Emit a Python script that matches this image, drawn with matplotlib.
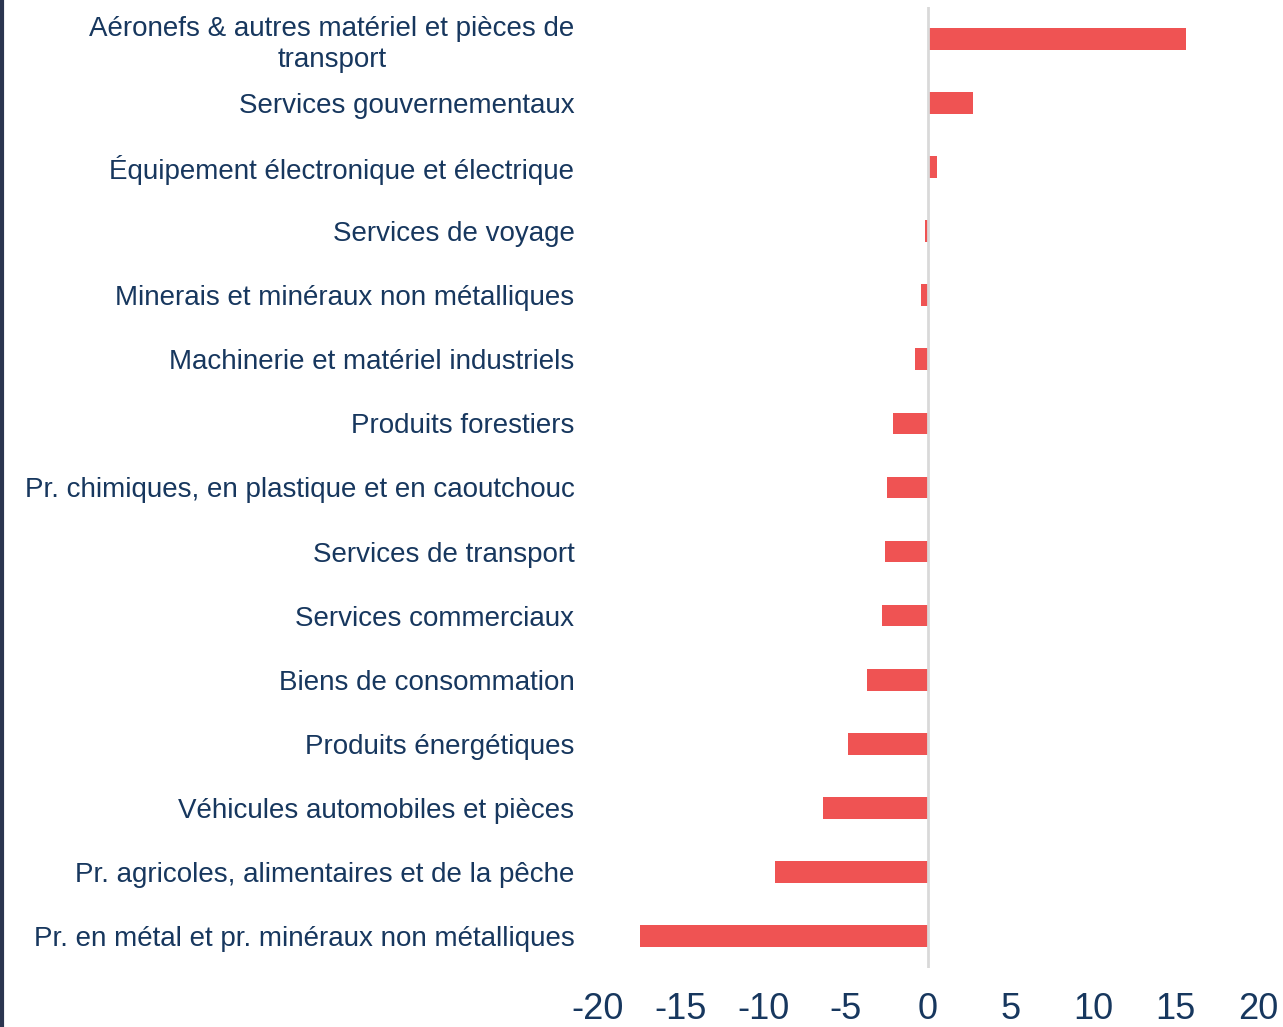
import matplotlib.pyplot as plt
from matplotlib.lines import Line2D

plt.rcParams['font.family'] = ['Liberation Sans', 'DejaVu Sans']

# catégories, de haut en bas
categories = [
    'Aéronefs & autres matériel et pièces de\ntransport',
    'Services gouvernementaux',
    'Équipement électronique et électrique',
    'Services de voyage',
    'Minerais et minéraux non métalliques',
    'Machinerie et matériel industriels',
    'Produits forestiers',
    'Pr. chimiques, en plastique et en caoutchouc',
    'Services de transport',
    'Services commerciaux',
    'Biens de consommation',
    'Produits énergétiques',
    'Véhicules automobiles et pièces',
    'Pr. agricoles, alimentaires et de la pêche',
    'Pr. en métal et pr. minéraux non métalliques',
]
values = [15.65, 2.7, 0.55, -0.18, -0.45, -0.8, -2.15, -2.5, -2.6,
          -2.8, -3.7, -4.85, -6.35, -9.25, -17.45]
xticks = [-20, -15, -10, -5, 0, 5, 10, 15, 20]

text_color = '#17375E'
bar_color = '#EF5353'

fig = plt.figure(figsize=(12.83, 10.27), dpi=100)
ax = fig.add_axes([0.4661, 0.0575, 0.5144, 0.9357])

y = list(range(len(categories)))
ax.barh(y, values, height=0.34, color=bar_color, zorder=2)
ax.axvline(0, color='#d9d9d9', linewidth=2, zorder=3)

ax.set_xlim(-20, 20)
ax.set_ylim(len(categories) - 0.5, -0.5)
ax.set_xticks(xticks)
ax.set_xticklabels([str(t) for t in xticks], fontsize=26, color=text_color)
ax.set_yticks(y)
ax.set_yticklabels(categories, fontsize=20, color=text_color,
                   multialignment='center', linespacing=1.25)
ax.tick_params(axis='both', length=0)
ax.tick_params(axis='x', pad=17)
ax.tick_params(axis='y', pad=17)
for s in ax.spines.values():
    s.set_visible(False)

# bordure gauche
fig.add_artist(Line2D([0.0015, 0.0015], [0, 1], transform=fig.transFigure,
                      color='#2b3550', linewidth=3))

fig.savefig('out.png', dpi=100)
